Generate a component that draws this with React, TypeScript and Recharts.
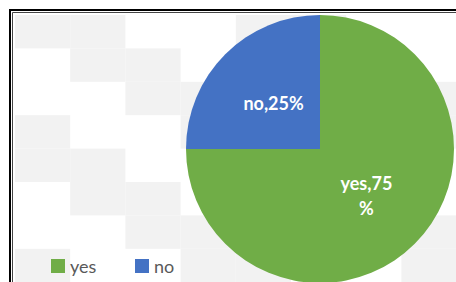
import { Cell, Legend, Pie, PieChart } from "recharts";

const categories = ["yes", "no"];
const shares = [75, 25];
const sliceColors = ["#70AD47", "#4472C4"];

const data = categories.map((name, i) => ({ name, value: shares[i] }));

const W = 456;
const H = 282;
const RADIAN = Math.PI / 180;

// Excel-style label wrap: breaks long labels into 6-char lines
function wrap(label: string, max = 6) {
  const lines: string[] = [];
  for (let i = 0; i < label.length; i += max) lines.push(label.slice(i, i + max));
  return lines;
}

function SliceLabel(props: any) {
  const { cx, cy, midAngle, outerRadius, name, percent } = props;
  const r = outerRadius * 0.49;
  const x = cx + r * Math.cos(-midAngle * RADIAN);
  const y = cy + r * Math.sin(-midAngle * RADIAN);
  const lines = wrap(`${name},${Math.round(percent * 100)}%`);
  const lh = 25;
  const y0 = y - ((lines.length - 1) * lh) / 2;
  return (
    <text
      x={x}
      y={y0}
      fill="#fff"
      textAnchor="middle"
      dominantBaseline="central"
      fontFamily="Lato, sans-serif"
      fontWeight={700}
      fontSize={18}
    >
      {lines.map((l, i) => (
        <tspan key={i} x={x} y={y0 + i * lh}>
          {l}
        </tspan>
      ))}
    </text>
  );
}

function LegendContent({ payload }: any) {
  const items = [...(payload || [])].sort(
    (a: any, b: any) => categories.indexOf(a.value) - categories.indexOf(b.value)
  );
  return (
    <div style={{ display: "flex", alignItems: "center" }}>
      {items.map((p: any) => (
        <div key={p.value} style={{ display: "flex", alignItems: "center", width: 84 }}>
          <span style={{ width: 14, height: 14, background: p.color, marginRight: 5 }} />
          <span style={{ color: "#595959", fontSize: 18, fontFamily: "Lato, sans-serif", lineHeight: "18px" }}>
            {p.value}
          </span>
        </div>
      ))}
    </div>
  );
}

function Backdrop() {
  const cw = 55.2;
  const rh = 33.4;
  const cells = [];
  for (let r = 0; r < 8; r++) {
    for (let c = 0; c < 8; c++) {
      if ((((c - r) % 4) + 4) % 4 < 2) {
        cells.push(<rect key={`${r}-${c}`} x={15 + c * cw} y={15 + r * rh} width={cw} height={rh} fill="#F2F2F2" />);
      }
    }
  }
  return (
    <svg width={W} height={H} style={{ position: "absolute", left: 0, top: 0 }}>
      <rect x={0} y={0} width={W} height={H} fill="#fff" />
      {cells}
      <path d={`M10 ${H} V10 H${W}`} stroke="#000" strokeWidth={2} fill="none" />
      <path d={`M12.5 ${H} V12.5 H${W}`} stroke="#444" strokeWidth={1} fill="none" />
    </svg>
  );
}

export default function App() {
  return (
    <div style={{ position: "absolute", left: 0, top: 0, width: W, height: H, overflow: "hidden" }}>
      <Backdrop />
      <div style={{ position: "absolute", left: 0, top: 0 }}>
        <PieChart width={W} height={H} margin={{ top: 0, right: 0, bottom: 0, left: 0 }}>
          <Pie
            data={data}
            dataKey="value"
            nameKey="name"
            cx={320}
            cy={149}
            outerRadius={134}
            startAngle={90}
            endAngle={-270}
            stroke="none"
            labelLine={false}
            label={SliceLabel}
            isAnimationActive={false}
          >
            {data.map((d, i) => (
              <Cell key={d.name} fill={sliceColors[i]} />
            ))}
          </Pie>
          <Legend
            content={<LegendContent />}
            wrapperStyle={{ position: "absolute", left: 51, top: 257, width: 200, height: 14 }}
          />
        </PieChart>
      </div>
    </div>
  );
}
